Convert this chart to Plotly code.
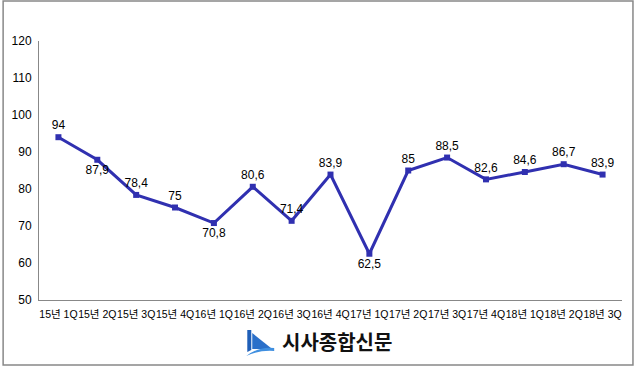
import plotly.graph_objects as go

categories = ["15년 1Q", "15년 2Q", "15년 3Q", "15년 4Q", "16년 1Q", "16년 2Q", "16년 3Q",
              "16년 4Q", "17년 1Q", "17년 2Q", "17년 3Q", "17년 4Q", "18년 1Q", "18년 2Q", "18년 3Q"]
values = [94, 87.9, 78.4, 75, 70.8, 80.6, 71.4, 83.9, 62.5, 85, 88.5, 82.6, 84.6, 86.7, 83.9]
label_pos = ["top center", "bottom center", "top center", "top center", "bottom center",
             "top center", "top center", "top center", "bottom center", "top center",
             "top center", "top center", "top center", "top center", "top center"]
y_ticks = [50, 60, 70, 80, 90, 100, 110, 120]

labels = [("%g" % v).replace(".", ",") for v in values]

FONT = "Liberation Sans, Arial, Noto Sans CJK KR, sans-serif"
W, H = 637, 367
L, R, T, B = 37, 15, 41, 67
pw, ph = W - L - R, H - T - B


def px(x):
    return (x - L) / pw


def py(y):
    return (H - B - y) / ph


fig = go.Figure()
fig.add_trace(go.Scatter(
    x=list(range(len(categories))), y=values,
    mode="lines+markers+text",
    line=dict(color="#3030B0", width=3),
    marker=dict(symbol="square", size=6, color="#3030B0"),
    text=labels, textposition=label_pos,
    textfont=dict(family=FONT, size=12, color="#000000"),
    cliponaxis=False, showlegend=False,
))

fig.update_xaxes(
    range=[-0.5, len(categories) - 0.5],
    tickmode="array", tickvals=list(range(len(categories))), ticktext=categories,
    tickangle=0, showgrid=False, zeroline=False,
    showline=True, linecolor="#888888", linewidth=1,
    ticks="", ticklabelstandoff=4,
    tickfont=dict(family=FONT, size=10.5, color="#000000"),
)
fig.update_yaxes(
    range=[50, 120], tickvals=y_ticks, showgrid=False, zeroline=False,
    showline=True, linecolor="#888888", linewidth=1,
    ticks="", ticklabelstandoff=4,
    tickfont=dict(family=FONT, size=12, color="#000000"),
)

shapes = [
    dict(type="rect", xref="paper", yref="paper", x0=px(1), x1=px(633), y0=py(1), y1=py(365),
         line=dict(color="#888888", width=1.5), fillcolor="rgba(0,0,0,0)", layer="below"),
]
dark = "M {0},{1} L {2},{3} L {4},{5} L {6},{7} Z".format(
    px(246), py(330), px(250), py(330), px(250), py(350), px(246), py(352))
tri = "M {0},{1} L {2},{3} L {4},{5} Z".format(px(251), py(333), px(271), py(349), px(251), py(349))
light = "M {0},{1} Q {2},{3} {4},{5} L {6},{7} Q {8},{9} {10},{11} Z".format(
    px(245), py(356), px(258), py(346), px(273), py(348),
    px(273), py(351), px(258), py(350), px(245), py(356))
for p, c in [(dark, "#1F5FB8"), (tri, "#2A6FC9"), (light, "#3F8FE0")]:
    shapes.append(dict(type="path", xref="paper", yref="paper", path=p,
                       fillcolor=c, line=dict(width=0)))

fig.update_layout(
    width=W, height=H,
    margin=dict(l=L, r=R, t=T, b=B),
    paper_bgcolor="#FFFFFF", plot_bgcolor="#FFFFFF",
    shapes=shapes,
    annotations=[dict(text="<b>시사종합신문</b>", xref="paper", yref="paper",
                      x=px(336), y=py(341), xanchor="center", yanchor="middle",
                      showarrow=False,
                      font=dict(family="Noto Sans CJK KR", size=20, color="#111111"))],
)

fig.write_html("out.html", config={"displayModeBar": False},
               post_script="document.body.style.margin='0';")
